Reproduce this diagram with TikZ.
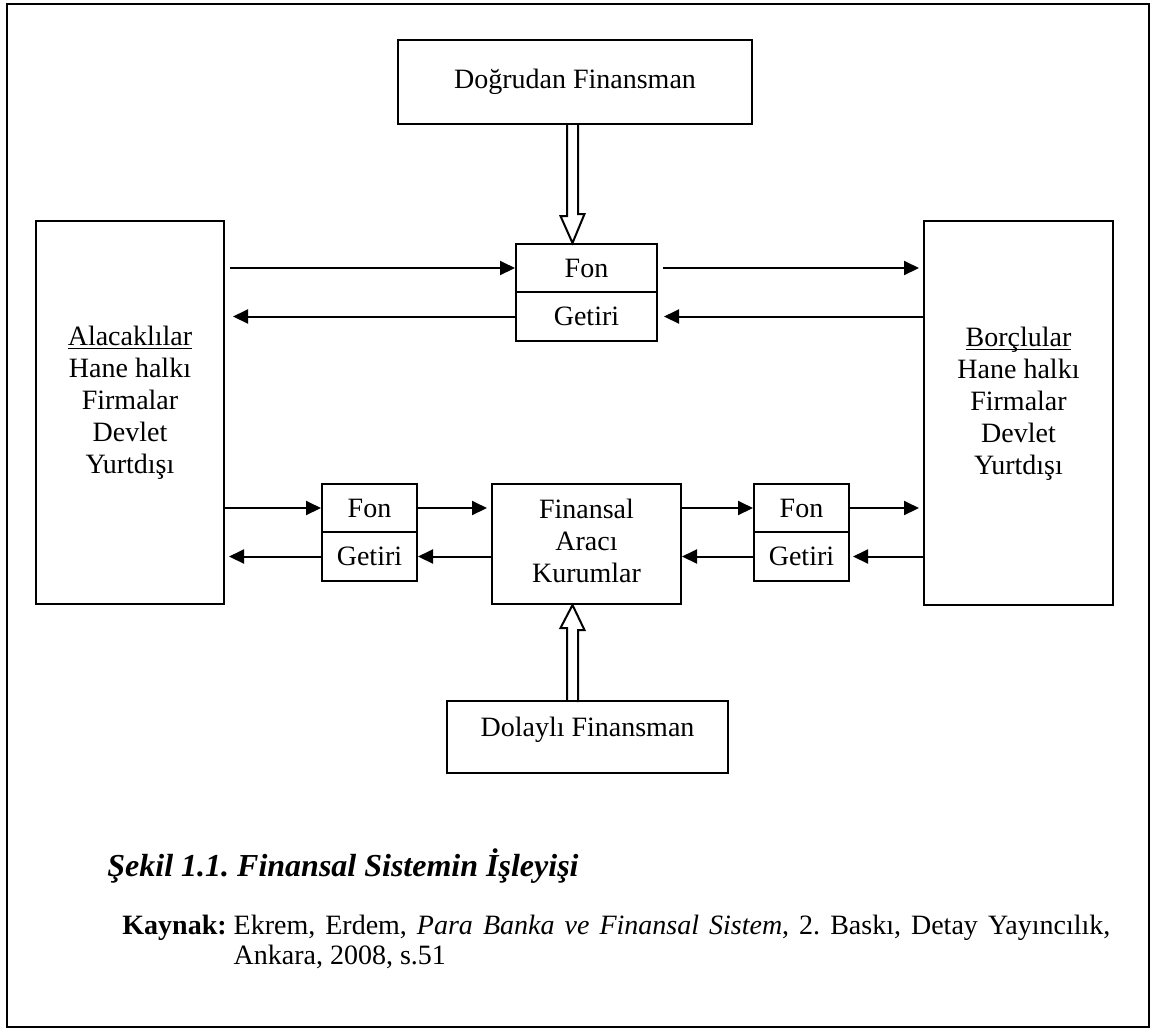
\documentclass[tikz,border=0pt]{standalone}
\usepackage{fontspec}
\setmainfont{Liberation Serif}
\usepackage{tikz}
\usetikzlibrary{positioning, arrows.meta, calc}
\frenchspacing

\newcommand{\ulword}[1]{\underline{\raisebox{0pt}[\height][0pt]{#1}}}

\tikzset{
  box/.style={draw, line width=1pt, inner sep=0pt, align=center,
              font=\fontsize{14}{16}\selectfont},
  halfbox/.style={box, minimum width=47.5pt, minimum height=24.25pt},
  arr/.style={line width=1pt, -{Triangle[length=7.5pt, width=7pt]}},
  hollow/.style={draw, line width=1pt, line join=miter},
}

\begin{document}
\begin{tikzpicture}[x=0.5pt, y=-0.5pt]
    \useasboundingbox (0,0) rectangle (1152,1030);
    % outer frame
    \draw[line width=1pt] (7,4) rectangle (1149,1027);

    % top: direct finance
    \node[box, minimum width=177pt, minimum height=42pt] (dogru) at (575,82) {Doğrudan Finansman};
    \node[box, minimum width=70.5pt, minimum height=24pt] (fonT) at (586.5,268) {Fon};
    \node[box, minimum width=70.5pt, minimum height=24.5pt] (getT) at (586.5,316.5) {Getiri};

    % lenders and borrowers
    \node[box, minimum width=94pt, minimum height=191.5pt, text depth=12.5pt] (alac) at (130,412.5)
      {\ulword{Alacaklılar}\\Hane halkı\\Firmalar\\Devlet\\Yurtdışı};
    \node[box, minimum width=94.5pt, minimum height=192pt, text depth=12.5pt] (borc) at (1018.5,413)
      {\ulword{Borçlular}\\Hane halkı\\Firmalar\\Devlet\\Yurtdışı};

    % bottom: indirect finance
    \node[halfbox] (fonL) at (369.5,508) {Fon};
    \node[halfbox] (getL) at (369.5,556.5) {Getiri};
    \node[box, minimum width=94.5pt, minimum height=60pt, text depth=3pt] (fin) at (586.5,544)
      {Finansal\\Aracı\\Kurumlar};
    \node[halfbox] (fonR) at (801.5,508) {Fon};
    \node[halfbox] (getR) at (801.5,556.5) {Getiri};
    \node[box, minimum width=140.5pt, minimum height=36pt, text height=9.5pt, text depth=10.5pt] (dolay) at (587.5,737)
      {Dolaylı Finansman};

    % flows, direct
    \draw[arr, shorten <=2.5pt] (alac.east |- fonT) -- (fonT.west);
    \draw[arr, shorten <=2.5pt, shorten >=2pt] (fonT.east) -- (borc.west |- fonT);
    \draw[arr, shorten >=3pt] (borc.west |- getT) -- (getT.east);
    \draw[arr, shorten >=4pt] (getT.west) -- (alac.east |- getT);

    % flows, indirect
    \draw[arr] (alac.east |- fonL) -- (fonL.west);
    \draw[arr, shorten >=2pt] (getL.west) -- (alac.east |- getL);
    \draw[arr, shorten >=2pt] (fonL.east) -- (fin.west |- fonL);
    \draw[arr] (fin.west |- getL) -- (getL.east);
    \draw[arr] (fin.east |- fonR) -- (fonR.west);
    \draw[arr] (getR.west) -- (fin.east |- getR);
    \draw[arr, shorten >=2pt] (fonR.east) -- (borc.west |- fonR);
    \draw[arr, shorten >=1.5pt] (borc.west |- getR) -- (getR.east);

    % hollow arrows
    \coordinate (topTip) at (fonT.north -| 572.5,0);
    \coordinate (botTip) at (fin.south -| 572.5,0);
    \draw[hollow] ($(topTip |- dogru.south)+(-5.5,0)$) -- ++(0,91) -- ++(-6.5,0) -- (topTip)
      -- ++(12,-29) -- ++(-6.5,0) -- ++(0,-91);
    \draw[hollow] ($(botTip |- dolay.north)+(-5.5,0)$) -- ++(0,-72) -- ++(-6.5,0) -- (botTip)
      -- ++(12,25) -- ++(-6.5,0) -- ++(0,72);

    % caption and source
    \node[anchor=base west, inner sep=0pt, font=\fontsize{16}{18}\selectfont\bfseries\itshape] (sekil) at (107,876)
      {Şekil 1.1. Finansal Sistemin İşleyişi};
    \node[anchor=base west, inner sep=0pt, font=\fontsize{14}{15}\selectfont] (kaynak) at (122,934)
      {\setbox0\hbox{\textbf{Kaynak:} }\copy0\parbox[t]{\dimexpr494pt-\wd0\relax}{Ekrem, Erdem,
       \textit{Para Banka ve Finansal Sistem}, 2. Baskı, Detay Yayıncılık,\linebreak Ankara, 2008, s.51}};
\end{tikzpicture}
\end{document}
